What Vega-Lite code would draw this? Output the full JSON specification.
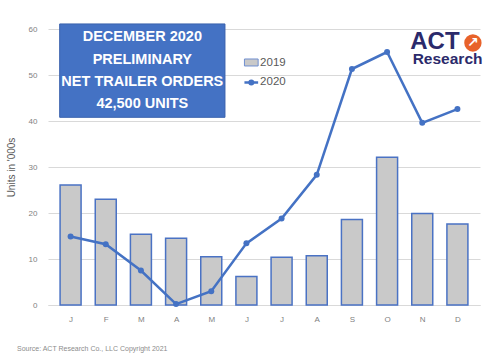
{
  "$schema": "https://vega.github.io/schema/vega-lite/v6.json",
  "width": 432,
  "height": 276,
  "autosize": {"type": "none"},
  "padding": {"left": 48, "top": 29, "right": 24, "bottom": 57},
  "background": "white",
  "config": {
    "view": {"stroke": null},
    "font": "Liberation Sans"
  },
  "title": {
    "text": "Source: ACT Research Co., LLC Copyright 2021",
    "orient": "bottom",
    "anchor": "start",
    "frame": "group",
    "dx": -31,
    "offset": 22,
    "fontSize": 7,
    "fontWeight": "normal",
    "color": "#8c8c8c"
  },
  "datasets": {
    "orders": [
      {"i": 0, "m": "J", "y2019": 26.1, "y2020": 14.9},
      {"i": 1, "m": "F", "y2019": 23.0, "y2020": 13.2},
      {"i": 2, "m": "M", "y2019": 15.4, "y2020": 7.5},
      {"i": 3, "m": "A", "y2019": 14.5, "y2020": 0.2},
      {"i": 4, "m": "M", "y2019": 10.5, "y2020": 3.0},
      {"i": 5, "m": "J", "y2019": 6.2, "y2020": 13.4},
      {"i": 6, "m": "J", "y2019": 10.4, "y2020": 18.8},
      {"i": 7, "m": "A", "y2019": 10.7, "y2020": 28.3},
      {"i": 8, "m": "S", "y2019": 18.6, "y2020": 51.3},
      {"i": 9, "m": "O", "y2019": 32.1, "y2020": 55.0},
      {"i": 10, "m": "N", "y2019": 19.9, "y2020": 39.6},
      {"i": 11, "m": "D", "y2019": 17.6, "y2020": 42.6}
    ],
    "box": [{"x1": -0.31, "x2": 4.39, "y1": 40.8, "y2": 61.1}],
    "boxText": [
      {"x": 2.04, "y": 58.3, "t": "DECEMBER 2020"},
      {"x": 2.04, "y": 53.3, "t": "PRELIMINARY"},
      {"x": 2.04, "y": 48.5, "t": "NET TRAILER ORDERS"},
      {"x": 2.04, "y": 43.7, "t": "42,500 UNITS"}
    ],
    "legendBar": [{"x1": 4.944, "x2": 5.333, "y1": 51.96, "y2": 53.48}],
    "legendLine": [{"x": 4.944, "y": 48.37}, {"x": 5.333, "y": 48.37}],
    "legendDot": [{"x": 5.139, "y": 48.37}],
    "legendText": [
      {"x": 5.389, "y": 52.67, "t": "2019"},
      {"x": 5.389, "y": 48.37, "t": "2020"}
    ],
    "logoAct": [{"x": 10.36, "y": 57.07, "t": "ACT"}],
    "logoResearch": [{"x": 10.72, "y": 53.48, "t": "Research"}],
    "logoMark": [{"x": 11.44, "y": 56.96}]
  },
  "layer": [
    {
      "data": {"name": "orders"},
      "mark": {"type": "bar", "size": 21, "fill": "#c9c9c9", "stroke": "#4a72c4", "strokeWidth": 1.5},
      "encoding": {
        "x": {
          "field": "i",
          "type": "quantitative",
          "scale": {"domain": [-0.5, 11.5], "nice": false, "zero": false},
          "axis": {
            "title": null,
            "values": [0, 1, 2, 3, 4, 5, 6, 7, 8, 9, 10, 11],
            "tickCount": 24,
            "labelExpr": "['J','F','M','A','M','J','J','A','S','O','N','D'][datum.value]",
            "labelOverlap": false,
            "grid": false,
            "ticks": false,
            "domain": true,
            "domainColor": "#d9d9d9",
            "domainWidth": 1,
            "labelColor": "#7f7f7f",
            "labelFontSize": 8,
            "labelPadding": 10
          }
        },
        "y": {
          "field": "y2019",
          "type": "quantitative",
          "scale": {"domain": [0, 60], "nice": false},
          "axis": {
            "title": "Units in '000s",
            "titleFontSize": 10,
            "titleFontWeight": "normal",
            "titleColor": "#595959",
            "titlePadding": 12,
            "values": [0, 10, 20, 30, 40, 50, 60],
            "grid": true,
            "gridColor": "#d9d9d9",
            "ticks": false,
            "domain": false,
            "labelColor": "#7f7f7f",
            "labelFontSize": 8,
            "labelPadding": 11
          }
        }
      }
    },
    {
      "data": {"name": "orders"},
      "mark": {"type": "line", "color": "#4472c4", "strokeWidth": 2.5, "point": {"filled": true, "size": 36, "color": "#4472c4"}},
      "encoding": {
        "x": {"field": "i", "type": "quantitative"},
        "y": {"field": "y2020", "type": "quantitative"}
      }
    },
    {
      "data": {"name": "box"},
      "mark": {"type": "rect", "fill": "#4472c4", "stroke": "#3a62ad", "strokeWidth": 1},
      "encoding": {
        "x": {"field": "x1", "type": "quantitative"},
        "x2": {"field": "x2"},
        "y": {"field": "y1", "type": "quantitative"},
        "y2": {"field": "y2"}
      }
    },
    {
      "data": {"name": "boxText"},
      "mark": {"type": "text", "color": "white", "fontWeight": "bold", "fontSize": 14.5, "align": "center", "baseline": "middle"},
      "encoding": {
        "x": {"field": "x", "type": "quantitative"},
        "y": {"field": "y", "type": "quantitative"},
        "text": {"field": "t"}
      }
    },
    {
      "data": {"name": "legendBar"},
      "mark": {"type": "rect", "fill": "#c9c9c9", "stroke": "#6f8fd0", "strokeWidth": 1},
      "encoding": {
        "x": {"field": "x1", "type": "quantitative"},
        "x2": {"field": "x2"},
        "y": {"field": "y1", "type": "quantitative"},
        "y2": {"field": "y2"}
      }
    },
    {
      "data": {"name": "legendLine"},
      "mark": {"type": "line", "color": "#4472c4", "strokeWidth": 2.5},
      "encoding": {
        "x": {"field": "x", "type": "quantitative"},
        "y": {"field": "y", "type": "quantitative"}
      }
    },
    {
      "data": {"name": "legendDot"},
      "mark": {"type": "point", "filled": true, "size": 36, "color": "#4472c4", "opacity": 1},
      "encoding": {
        "x": {"field": "x", "type": "quantitative"},
        "y": {"field": "y", "type": "quantitative"}
      }
    },
    {
      "data": {"name": "legendText"},
      "mark": {"type": "text", "color": "#595959", "fontSize": 11.5, "align": "left", "baseline": "middle"},
      "encoding": {
        "x": {"field": "x", "type": "quantitative"},
        "y": {"field": "y", "type": "quantitative"},
        "text": {"field": "t"}
      }
    },
    {
      "data": {"name": "logoAct"},
      "mark": {"type": "text", "color": "#2b2a6b", "fontWeight": "bold", "fontSize": 24, "align": "center", "baseline": "middle"},
      "encoding": {
        "x": {"field": "x", "type": "quantitative"},
        "y": {"field": "y", "type": "quantitative"},
        "text": {"field": "t"}
      }
    },
    {
      "data": {"name": "logoResearch"},
      "mark": {"type": "text", "color": "#2b2a6b", "fontWeight": "bold", "fontSize": 15.5, "align": "center", "baseline": "middle"},
      "encoding": {
        "x": {"field": "x", "type": "quantitative"},
        "y": {"field": "y", "type": "quantitative"},
        "text": {"field": "t"}
      }
    },
    {
      "data": {"name": "logoMark"},
      "mark": {"type": "point", "filled": true, "size": 300, "color": "#e8622a", "opacity": 1},
      "encoding": {
        "x": {"field": "x", "type": "quantitative"},
        "y": {"field": "y", "type": "quantitative"}
      }
    },
    {
      "data": {"name": "logoMark"},
      "mark": {"type": "text", "text": "↗", "color": "white", "fontWeight": "bold", "fontSize": 14, "font": "DejaVu Sans", "align": "center", "baseline": "middle"},
      "encoding": {
        "x": {"field": "x", "type": "quantitative"},
        "y": {"field": "y", "type": "quantitative"}
      }
    }
  ]
}
